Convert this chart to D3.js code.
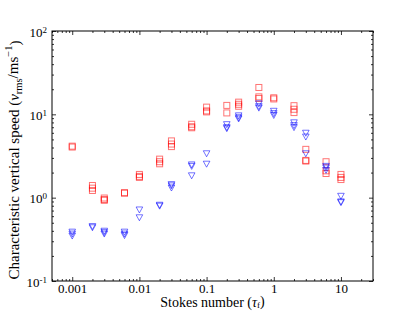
<!DOCTYPE html>
<html>
<head>
<meta charset="utf-8">
<script src="https://cdn.jsdelivr.net/npm/d3@7"></script>
<style>
    body { margin: 0; background: #fff; }
</style>
</head>
<body>
<div id="chart"></div>
<script>
// Stokes numbers sampled in the runs
const stokes = [0.001, 0.002, 0.003, 0.006, 0.01, 0.02, 0.03, 0.06, 0.1, 0.2, 0.3, 0.6, 1, 2, 3, 6, 10];

// red squares: several runs per Stokes number
const redSpeeds = [
    [4.15, 4.05],
    [1.4, 1.3, 1.22],
    [0.99, 0.95, 0.93],
    [1.15, 1.13],
    [1.9, 1.8, 1.75],
    [2.9, 2.7, 2.55],
    [4.8, 4.4, 4.1],
    [7.6, 7.1, 6.9],
    [12.2, 11.0, 10.7],
    [12.8, 10.4],
    [14.0, 13.2, 12.5],
    [21.0, 16.2, 15.5],
    [15.8, 15.3],
    [12.7, 11.5, 10.5],
    [3.8, 2.8, 2.75],
    [2.7, 2.1, 1.95],
    [1.9, 1.75, 1.65]
];

// blue triangles
const blueSpeeds = [
    [0.39, 0.37, 0.35],
    [0.455, 0.44],
    [0.40, 0.385, 0.37],
    [0.39, 0.37, 0.355],
    [0.72, 0.58],
    [0.82, 0.80],
    [1.45, 1.4, 1.32],
    [2.5, 2.4, 1.85],
    [3.4, 2.55],
    [7.6, 7.0, 6.8],
    [9.7, 9.2, 8.9],
    [13.5, 12.5, 12.0],
    [11.0, 10.3, 9.8],
    [8.0, 7.4, 7.0],
    [6.0, 5.4, 3.4],
    [2.4, 2.3, 2.15],
    [1.05, 0.9, 0.88]
];

const xTickLabels = [`0.001`, `0.01`, `0.1`, `1`, `10`];
const yTickExponents = [`-1`, `0`, `1`, `2`];

const serif = `"Liberation Serif", "Times New Roman", "DejaVu Serif", serif`;
const width = 415, height = 312;
const margin = { left: 52, right: 42, top: 31, bottom: 31 };
const w = width - margin.left - margin.right;
const h = height - margin.top - margin.bottom;

const svg = d3.select(`#chart`).append(`svg`)
    .attr(`width`, width)
    .attr(`height`, height)
    .attr(`font-family`, serif);

const g = svg.append(`g`)
    .attr(`transform`, `translate(` + margin.left + `,` + margin.top + `)`);

const x = d3.scaleLog().domain([0.0005, 30]).range([0, w]);
const y = d3.scaleLog().domain([0.1, 100]).range([h, 0]);

const xMajor = xTickLabels.map(Number);
const yMajor = yTickExponents.map(e => Math.pow(10, +e));
const isMajor = v => Math.abs(Math.log10(v) - Math.round(Math.log10(v))) < 1e-6;
const xMinor = x.ticks().filter(v => !isMajor(v));
const yMinor = y.ticks().filter(v => !isMajor(v));

function styleAxis(sel) {
    sel.attr(`font-family`, serif);
    sel.select(`.domain`).remove();
    sel.selectAll(`line`).attr(`stroke`, `#000`).attr(`stroke-width`, 0.8);
    sel.selectAll(`text`).attr(`font-size`, 13).attr(`font-family`, serif).attr(`fill`, `#000`);
}

// minor ticks, all four sides, pointing inward
g.append(`g`).attr(`transform`, `translate(0,${h})`)
    .call(d3.axisBottom(x).tickValues(xMinor).tickSize(-2).tickFormat(``)).call(styleAxis);
g.append(`g`)
    .call(d3.axisTop(x).tickValues(xMinor).tickSize(-2).tickFormat(``)).call(styleAxis);
g.append(`g`)
    .call(d3.axisLeft(y).tickValues(yMinor).tickSize(-2).tickFormat(``)).call(styleAxis);
g.append(`g`).attr(`transform`, `translate(${w},0)`)
    .call(d3.axisRight(y).tickValues(yMinor).tickSize(-2).tickFormat(``)).call(styleAxis);

// major ticks
g.append(`g`).attr(`transform`, `translate(0,${h})`)
    .call(d3.axisBottom(x).tickValues(xMajor).tickSize(-4).tickPadding(3)
        .tickFormat((d, i) => xTickLabels[i])).call(styleAxis);
g.append(`g`)
    .call(d3.axisTop(x).tickValues(xMajor).tickSize(-4).tickFormat(``)).call(styleAxis);
g.append(`g`).attr(`transform`, `translate(${w},0)`)
    .call(d3.axisRight(y).tickValues(yMajor).tickSize(-4).tickFormat(``)).call(styleAxis);

let yAxis = g.append(`g`)
    .call(d3.axisLeft(y).tickValues(yMajor).tickSize(-4).tickPadding(5).tickFormat(``)).call(styleAxis);
yAxis.selectAll(`.tick`).each(function (d, i) {
    let t = d3.select(this).select(`text`).attr(`dy`, `0.4em`);
    t.append(`tspan`).text(`10`);
    t.append(`tspan`).attr(`dy`, `-0.45em`).attr(`font-size`, 9).text(yTickExponents[i]);
});

// frame
g.append(`rect`)
    .attr(`width`, w).attr(`height`, h)
    .attr(`fill`, `none`).attr(`stroke`, `#000`).attr(`stroke-width`, 1);

// flatten the runs into points
function flatten(arr) {
    let out = [];
    arr.forEach((vals, i) => vals.forEach(v => out.push({ st: stokes[i], v: v })));
    return out;
}

const marks = g.append(`g`);

marks.selectAll(`.sq`)
    .data(flatten(redSpeeds))
    .enter().append(`rect`)
    .attr(`class`, `sq`)
    .attr(`x`, d => x(d.st) - 3)
    .attr(`y`, d => y(d.v) - 3)
    .attr(`width`, 6)
    .attr(`height`, 6)
    .attr(`fill`, `none`)
    .attr(`stroke`, `#ff0000`)
    .attr(`stroke-opacity`, 0.55)
    .attr(`stroke-width`, 1);

marks.selectAll(`.tri`)
    .data(flatten(blueSpeeds))
    .enter().append(`path`)
    .attr(`class`, `tri`)
    .attr(`transform`, d => `translate(${x(d.st)},${y(d.v)})`)
    .attr(`d`, `M-3.3,-2.6L3.3,-2.6L0,3.4Z`)
    .attr(`fill`, `none`)
    .attr(`stroke`, `#0000ff`)
    .attr(`stroke-opacity`, 0.55)
    .attr(`stroke-width`, 1);

// axis titles
svg.append(`text`)
    .attr(`x`, margin.left + w / 2)
    .attr(`y`, 307)
    .attr(`text-anchor`, `middle`)
    .attr(`font-size`, 14)
    .call(t => {
        t.append(`tspan`).text(`Stokes number (`);
        t.append(`tspan`).attr(`font-style`, `italic`).text(`τ`);
        t.append(`tspan`).attr(`font-size`, 9).attr(`dy`, `0.15em`).text(`f`);
        t.append(`tspan`).attr(`dy`, `-0.15em`).text(`)`);
    });

svg.append(`text`)
    .attr(`transform`, `translate(19,160) rotate(-90)`)
    .attr(`text-anchor`, `middle`)
    .attr(`font-size`, 15)
    .call(t => {
        t.append(`tspan`).text(`Characteristic vertical speed (`);
        t.append(`tspan`).attr(`font-style`, `italic`).text(`v`);
        t.append(`tspan`).attr(`font-size`, 10.5).attr(`dy`, `0.3em`).text(`rms`);
        t.append(`tspan`).attr(`dy`, `-0.3em`).text(`/ms`);
        t.append(`tspan`).attr(`font-size`, 10.5).attr(`dy`, `-0.5em`).text(`−1`);
        t.append(`tspan`).attr(`dy`, `0.5em`).text(`)`);
    });
</script>
</body>
</html>
